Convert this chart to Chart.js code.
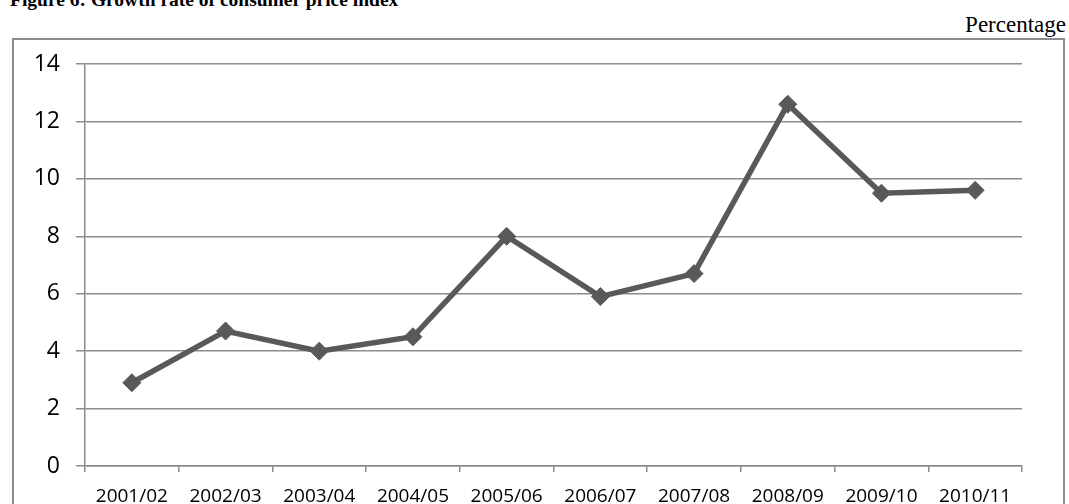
<!DOCTYPE html>
<html>
<head>
<meta charset="utf-8">
<title>Growth rate of consumer price index</title>
<script src="https://cdn.jsdelivr.net/npm/chart.js@4/dist/chart.umd.min.js"></script>
<style>
  html, body { margin: 0; padding: 0; background: #fff; overflow: hidden; }
  #page { position: relative; width: 1069px; height: 504px; }
  #fig-title {
    position: absolute; left: 10px; top: -11px;
    font: bold 19.5px "Liberation Serif", "Times New Roman", serif;
    color: #000; white-space: nowrap;
  }
  #unit {
    position: absolute; right: 3px; top: 12px;
    font: 23px "Liberation Serif", "Times New Roman", serif;
    color: #000;
  }
  #frame {
    position: absolute; left: 12px; top: 38px; width: 1053px; height: 520px;
    border: 2px solid #8c8c8c; box-sizing: border-box;
  }
  #chart { position: absolute; left: 0; top: 0; }
</style>
</head>
<body>
<div id="page">
  <div id="fig-title">Figure 6: Growth rate of consumer price index</div>
  <div id="unit">Percentage</div>
  <div id="frame"></div>
  <canvas id="chart" width="1069" height="504"></canvas>
</div>
<script>
// Fiscal years and CPI growth (%)
const years = ['2001/02', '2002/03', '2003/04', '2004/05', '2005/06',
               '2006/07', '2007/08', '2008/09', '2009/10', '2010/11'];
const cpiGrowth = [2.9, 4.7, 4.0, 4.5, 8.0, 5.9, 6.7, 12.6, 9.5, 9.6];
const yTicks = [0, 2, 4, 6, 8, 10, 12, 14];

const lineColor = '#595959';
const gridColor = '#8c8c8c';

new Chart(document.getElementById('chart'), {
  type: 'line',
  data: {
    labels: years,
    datasets: [{
      data: cpiGrowth,
      borderColor: lineColor,
      backgroundColor: lineColor,
      borderWidth: 5.5,
      tension: 0,
      pointStyle: 'rectRot',
      pointRadius: 9,
      pointBorderWidth: 1,
      pointBorderColor: lineColor,
      pointBackgroundColor: lineColor
    }]
  },
  options: {
    responsive: false,
    animation: false,
    events: [],
    layout: { padding: { left: 0, top: 64, right: 47, bottom: 0 } },
    plugins: { legend: { display: false }, tooltip: { enabled: false } },
    scales: {
      x: {
        offset: true,
        grid: { offset: true, drawOnChartArea: false, drawTicks: true, tickLength: 6, color: gridColor, lineWidth: 1.5 },
        border: { color: gridColor, width: 1.5 },
        ticks: { color: '#000', padding: 13, maxRotation: 0, autoSkip: false,
                 font: { family: '"Open Sans", sans-serif', size: 19 } },
        afterFit: s => { s.height = 38; }
      },
      y: {
        min: yTicks[0],
        max: yTicks[yTicks.length - 1],
        afterBuildTicks: s => { s.ticks = yTicks.map(v => ({ value: v })); },
        grid: { color: gridColor, lineWidth: 1.5, tickLength: 9 },
        border: { color: gridColor, width: 1.5 },
        ticks: { color: '#000', padding: 16,
                 font: { family: '"Open Sans", sans-serif', size: 23 } },
        afterFit: s => { s.width = 85; }
      }
    }
  }
});
</script>
</body>
</html>
